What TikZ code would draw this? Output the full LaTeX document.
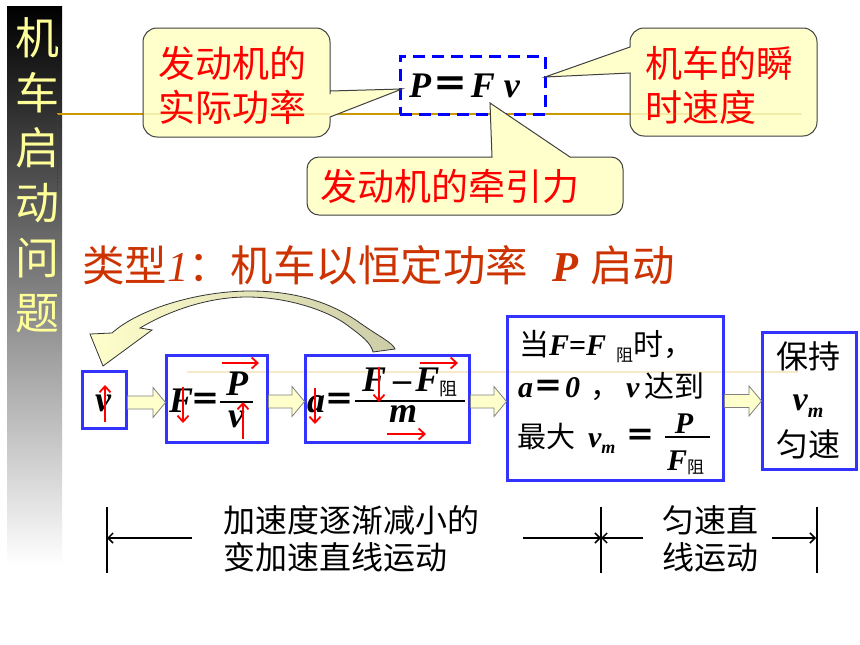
\documentclass[tikz,border=0pt]{standalone}
\usepackage{fontspec}
\setmainfont{Liberation Serif}
\newfontfamily\cjk{Noto Sans CJK SC}
\usetikzlibrary{arrows.meta,calc}
\definecolor{cofill}{RGB}{255,255,204}
\definecolor{coline}{RGB}{64,64,64}
\definecolor{titlecol}{RGB}{204,51,0}
\definecolor{barcol}{RGB}{255,255,153}
\definecolor{goldline}{RGB}{204,153,0}
\definecolor{fblue}{RGB}{51,51,255}
\definecolor{tailcol}{RGB}{204,204,168}
\definecolor{faintline}{RGB}{248,234,200}
\newcommand\bi[1]{{\bfseries\itshape #1}}
\newcommand\fs[1]{\fontsize{#1}{#1}\selectfont}
\newcommand\barr[2]{\draw[blockarr] let \p1=(#1.east), \p2=(#2.west) in
 (\x1+1.5pt,\y1-3pt+6.5pt) -- (\x2-13pt,\y1-3pt+6.5pt) -- (\x2-13pt,\y1-3pt+15pt) -- (\x2-0.5pt,\y1-3pt)
 -- (\x2-13pt,\y1-3pt-15pt) -- (\x2-13pt,\y1-3pt-6.5pt) -- (\x1+1.5pt,\y1-3pt-6.5pt) -- cycle;}
\begin{document}
\begin{tikzpicture}[x=1pt,y=-1pt,
 every node/.style={inner sep=0pt, outer sep=0pt},
 callout/.style={fill=cofill, draw=coline, line width=1pt},
 cotxt/.style={anchor=base west, text=red, font=\cjk\fs{37}},
 bartxt/.style={anchor=base, text=barcol, font=\cjk\fs{44}},
 fbox/.style={draw=fblue, line width=3pt, rectangle},
 redarr/.style={draw=red, line width=1.8pt, -{Straight Barb[length=6pt,width=11pt]}},
 blockarr/.style={fill=cofill, draw=gray, line width=0.8pt},
 dimarr/.style={draw=black, line width=1.5pt, -{Straight Barb[length=5pt,width=10pt]}},
 dimbar/.style={draw=black, line width=2pt},
 dimtxt/.style={anchor=base west, font=\cjk\fs{32}},
 fracbar/.style={draw=black, line width=2.5pt},
 numer/.style={text depth=0pt},
 denom/.style={text height=17pt}
]
\useasboundingbox (0,0) rectangle (860,645);
\fill[white] (0,0) rectangle (860,645);

% side bar
\shade[top color=black, bottom color=white] (7,6) rectangle (62,565);
\foreach \c [count=\i from 0] in {机,车,启,动,问,题}
  \node[bartxt] (L\i) at (38,54.7+55*\i) {\c};

% template lines
\draw[goldline, line width=2pt] (57,114) -- (802,114);
\draw[black!75, densely dotted, line width=0.8pt] (57,114) -- (57,190);
\draw[faintline, line width=1.5pt] (187,372) -- (798,372);

% P = F v
\node[draw=blue, dash pattern=on 12pt off 7pt, line width=3pt, minimum width=145pt, minimum height=58pt] (pfv) at (472.5,85) {};
\node[anchor=base west, font=\fs{36}] (pfvtxt) at (409,97) {\bi{P}\hspace{2pt}{\cjk\bfseries ＝}\hspace{2pt}\bi{F}\hspace{9pt}\bi{v}};

% callouts
\path[callout] (236,28) [rounded corners=14pt] -- (330,28) -- (330,80) [sharp corners] -- (330,91) -- (402,89) -- (330,117) -- (330,120) [rounded corners=14pt] -- (330,137) -- (143,137) -- (143,28) -- cycle;
\node[cotxt] (c1a) at (158,77) {发动机的};
\node[cotxt] (c1b) at (158,121) {实际功率};

\path[callout] (723,28) [rounded corners=14pt] -- (817,28) -- (817,136) -- (630,136) -- (630,90) [sharp corners] -- (630,73) -- (545,77) -- (630,47) -- (630,45) [rounded corners=14pt] -- (630,28) -- cycle;
\node[cotxt] (c2a) at (645,77) {机车的瞬};
\node[cotxt] (c2b) at (645,121) {时速度};

\path[callout] (307,186) [rounded corners=12pt] -- (307,157) -- (400,157) [sharp corners] -- (492,157) -- (490,103) -- (570,157) -- (600,157) [rounded corners=12pt] -- (623,157) -- (623,215) -- (307,215) -- cycle;
\node[cotxt] (c3) at (320,200) {发动机的牵引力};

% faint gold trace across callouts
\draw[goldline, opacity=0.18, line width=2pt] (143,114) -- (330,114);
\draw[goldline, opacity=0.18, line width=2pt] (630,114) -- (802,114);

% title
\node[anchor=base west, text=titlecol, font=\fs{42.5}] (title) at (82,281)
 {{\cjk 类型}\textit{1}{\cjk ：机车以恒定功率}\hspace{24pt}\bi{P}\hspace{12pt}{\cjk 启动}};

% curved feedback arrow
\path[draw=black!80, line width=0.8pt, left color=cofill, right color=tailcol]
 (395,349) .. controls (393,343) and (380,337) .. (360,323)
 .. controls (335,305) and (300,291) .. (250,291)
 .. controls (200,291) and (140,308) .. (112,333)
 -- (90,334) -- (103,366) -- (152,330) -- (140,328)
 .. controls (165,313) and (205,297) .. (247,297)
 .. controls (290,297) and (330,312) .. (347,325)
 .. controls (362,336) and (371,343) .. (373,352) -- cycle;

% flow boxes
\node[fbox, minimum width=44pt, minimum height=57pt] (b1) at (104,399.5) {};
\node[fbox, minimum width=101pt, minimum height=87pt] (b2) at (216.5,398.5) {};
\node[fbox, minimum width=164pt, minimum height=87pt] (b3) at (387,398.5) {};
\node[fbox, minimum width=216pt, minimum height=164pt] (b4) at (615,398) {};
\node[fbox, minimum width=94pt, minimum height=137pt] (b5) at (809,400.5) {};

\barr{b1}{b2}
\barr{b2}{b3}
\barr{b3}{b4}
\barr{b4}{b5}

% box 1
\node[anchor=base, font=\fs{36}] (v1) at (103,411) {\bi{v}};
\draw[redarr] (105,422) -- (105,385);

% box 2
\node[anchor=base west, font=\fs{36}] (F2) at (169,412) {\bi{F}};
\node[anchor=base, font=\cjk\bfseries\fs{30}] (eq2) at (205,410) {＝};
\node[anchor=base, numer, font=\fs{36}] (P2) at (237,395) {\bi{P}};
\node[anchor=base, denom, font=\fs{36}] (v2) at (236,427) {\bi{v}};
\draw[fracbar] (220,402) -- (253,402);
\draw[redarr] (183,387) -- (183,423);
\draw[redarr] (243,439) -- (243,402);
\draw[redarr] (222,363) -- (259,363);

% box 3
\node[anchor=base west, font=\fs{36}] (a3) at (307,412) {\bi{a}};
\node[anchor=base, font=\cjk\bfseries\fs{30}] (eq3) at (339,410) {＝};
\node[anchor=base west, numer, font=\fs{36}] (num3) at (362,391)
 {\bi{F}\hspace{7pt}\textbf{–}\hspace{4pt}\bi{F}\raisebox{-4pt}{\cjk\fs{18}阻}};
\draw[fracbar] (355,401) -- (465,401);
\node[anchor=base, denom, font=\fs{36}] (m3) at (403,422) {\bi{m}};
\draw[redarr] (315,388) -- (315,424);
\draw[redarr] (379,367) -- (379,402);
\draw[redarr] (420,363) -- (458,363);
\draw[redarr] (387,434) -- (426,434);

% box 4
\node[anchor=base west, font=\fs{30}] (l41) at (519,355)
 {{\cjk 当}\bi{F}\textbf{=}\bi{F}\hspace{10pt}\raisebox{-6pt}{\cjk\fs{17}阻}{\cjk 时，}};
\node[anchor=base west, font=\fs{30}] (l42) at (518,397)
 {\bi{a}{\cjk\bfseries ＝}\hspace{2pt}\bi{0}\hspace{10pt}{\cjk ，}\hspace{6pt}\bi{v}\hspace{5pt}{\cjk 达到}};
\node[anchor=base west, font=\cjk\fs{29}] (l43) at (517,447) {最大};
\node[anchor=base west, font=\fs{30}] (vm4) at (588,447) {\bi{v}\raisebox{-6pt}{\fs{18}\bi{m}}};
\node[anchor=base, font=\cjk\bfseries\fs{30}] (eq4) at (640,446) {＝};
\node[anchor=base, numer, font=\fs{30}] (P4) at (684,433) {\bi{P}};
\draw[draw=black, line width=2pt] (665,437) -- (710,437);
\node[anchor=base west, font=\fs{30}] (F4) at (667,470) {\bi{F}\raisebox{-3pt}{\cjk\fs{17}阻}};

% box 5
\node[anchor=base, font=\cjk\fs{32}] (k1) at (808,368) {保持};
\node[anchor=base, font=\fs{34}] (k2) at (808,410) {\bi{v}\raisebox{-7pt}{\fs{20}\bi{m}}};
\node[anchor=base, font=\cjk\fs{32}] (k3) at (808,456) {匀速};

% bottom dimension lines
\coordinate (d1t) at (107,507); \coordinate (d1b) at (107,573); \coordinate (d1m) at (107,538);
\coordinate (d2t) at (601,507); \coordinate (d2b) at (601,573); \coordinate (d2m) at (601,538);
\coordinate (d3t) at (817,507); \coordinate (d3b) at (817,573); \coordinate (d3m) at (816,538);
\coordinate (e1) at (192,538); \coordinate (e2) at (523,538);
\coordinate (e3) at (643,538); \coordinate (e4) at (772,538);
\draw[dimbar] (d1t) -- (d1b);
\draw[dimbar] (d2t) -- (d2b);
\draw[dimbar] (d3t) -- (d3b);
\draw[dimarr] (e1) -- (d1m);
\draw[dimarr] (e2) -- (d2m);
\draw[dimarr] (e3) -- (d2m);
\draw[dimarr] (e4) -- (d3m);
\node[dimtxt] (s1) at (223,532) {加速度逐渐减小的};
\node[dimtxt] (s2) at (223,569) {变加速直线运动};
\node[dimtxt] (s3) at (662,532) {匀速直};
\node[dimtxt] (s4) at (662,569) {线运动};
\end{tikzpicture}
\end{document}
